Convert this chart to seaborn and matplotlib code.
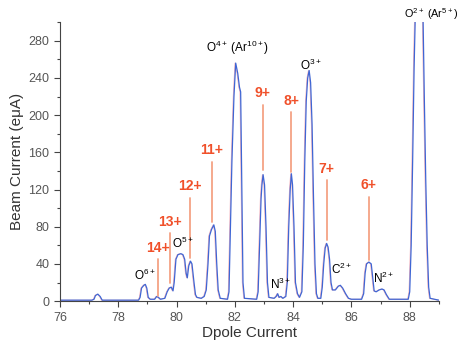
import seaborn as sns
import matplotlib.pyplot as plt
from matplotlib.ticker import MultipleLocator
import pandas as pd

# --- данные ---
dpole = [76.0, 77.1, 77.17, 77.22, 77.3, 77.38, 77.45, 78.7, 78.75, 78.8, 78.88, 78.93,
         78.98, 79.03, 79.1, 79.25, 79.32, 79.38, 79.45, 79.6, 79.68, 79.75, 79.82, 79.88,
         79.92, 79.98, 80.05, 80.15, 80.22, 80.28, 80.33, 80.37, 80.42, 80.48, 80.53, 80.6,
         80.65, 80.7, 80.85, 80.95, 81.02, 81.08, 81.13, 81.2, 81.28, 81.33, 81.38, 81.43,
         81.5, 81.75, 81.8, 81.85, 81.9, 81.97, 82.03, 82.1, 82.16, 82.2, 82.24, 82.28,
         82.33, 82.75, 82.8, 82.85, 82.9, 82.93, 82.97, 83.02, 83.07, 83.12, 83.17, 83.35,
         83.42, 83.47, 83.52, 83.58, 83.65, 83.75, 83.8, 83.85, 83.9, 83.94, 83.98, 84.03,
         84.08, 84.15, 84.22, 84.3, 84.35, 84.4, 84.45, 84.5, 84.55, 84.6, 84.65, 84.7,
         84.75, 84.8, 84.85, 84.95, 85.0, 85.05, 85.1, 85.15, 85.2, 85.25, 85.3, 85.35,
         85.45, 85.55, 85.62, 85.7, 85.8, 85.9, 86.0, 86.35, 86.42, 86.47, 86.52, 86.6,
         86.68, 86.73, 86.78, 86.85, 86.95, 87.05, 87.12, 87.2, 87.3, 87.95, 88.0, 88.05,
         88.1, 88.15, 88.2, 88.45, 88.5, 88.55, 88.6, 88.65, 88.7, 89.0]
current = [1, 1, 2, 6, 7.5, 5, 1, 1, 4, 14, 17, 18,
           14, 4, 2, 2, 5, 4, 2, 3, 10, 14, 15, 11,
           20, 45, 50, 51, 50, 45, 30, 25, 38, 43, 40, 20,
           7, 4, 3, 5, 12, 40, 70, 77, 82, 75, 40, 12,
           3, 2, 10, 80, 150, 220, 256, 245, 230, 225, 120, 20,
           3, 2, 10, 60, 110, 125, 136, 125, 80, 20, 4, 3,
           5, 8, 4, 5, 3, 5, 20, 80, 120, 137, 125, 80,
           20, 8, 4, 10, 60, 150, 215, 240, 248, 235, 190, 110,
           40, 8, 3, 3, 15, 40, 57, 62, 58, 45, 20, 12,
           12, 16, 17, 14, 8, 3, 2, 2, 8, 30, 40, 42,
           40, 25, 11, 10, 12, 13, 12, 7, 2, 2, 10, 60,
           150, 250, 320, 320, 220, 130, 60, 15, 3, 1]

# зарядовые состояния (красные метки): текст, x, верх линии, низ линии
charge_labels = ['14+', '13+', '12+', '11+', '9+', '8+', '7+', '6+']
charge_x = [79.35, 79.77, 80.46, 81.22, 82.96, 83.94, 85.15, 86.6]
line_top = [45, 73, 111, 150, 211, 203, 130, 112]
line_bottom = [5, 19, 46, 85, 141, 139, 66, 44]

# ионы (чёрные метки)
ion_labels = ['O$^{6+}$', 'O$^{5+}$', 'O$^{4+}$ (Ar$^{10+}$)', 'N$^{3+}$', 'O$^{3+}$',
              'C$^{2+}$', 'N$^{2+}$', 'O$^{2+}$ (Ar$^{5+}$)']
ion_x = [78.9, 80.2, 82.1, 83.55, 84.6, 85.65, 87.1, 89.66]
ion_y = [20, 54, 262, 10, 245, 26, 16, 300]
ion_ha = ['center'] * 7 + ['right']
ion_size = [8.5] * 7 + [7.8]

RED = '#f0502a'
LINE_RED = '#f4a285'
BLUE = '#3f66d4'

sns.set_style("ticks")
plt.rcParams['font.family'] = ['Liberation Sans', 'DejaVu Sans']
plt.rcParams['mathtext.fontset'] = 'custom'
plt.rcParams['mathtext.rm'] = 'Liberation Sans'
plt.rcParams['mathtext.it'] = 'Liberation Sans'

fig = plt.figure(figsize=(4.61, 3.41), dpi=100)
ax = fig.add_axes([0.130, 0.117, 0.822, 0.818])

df = pd.DataFrame({'Dpole': dpole, 'Current': current})
df_red = df.assign(Dpole=df['Dpole'] - 0.025)

# бледная красная кривая под синей
sns.lineplot(data=df_red, x='Dpole', y='Current', color='#e86a7e', linewidth=0.6,
             alpha=0.55, ax=ax)
sns.lineplot(data=df, x='Dpole', y='Current', color=BLUE, linewidth=0.9, ax=ax)

for lab, x, yt, yb in zip(charge_labels, charge_x, line_top, line_bottom):
    ax.plot([x, x], [yb, yt], color=LINE_RED, linewidth=1.3)
    ax.text(x, yt + 5, lab, color=RED, fontsize=10, fontweight='bold',
            ha='center', va='bottom')

for lab, x, y, ha, fs in zip(ion_labels, ion_x, ion_y, ion_ha, ion_size):
    ax.text(x, y, lab, color='black', fontsize=fs, ha=ha, va='bottom',
            clip_on=False)

ax.set_xlim(76, 89)
ax.set_ylim(0, 300)
ax.xaxis.set_major_locator(MultipleLocator(2))
ax.xaxis.set_minor_locator(MultipleLocator(1))
ax.yaxis.set_major_locator(MultipleLocator(40))
ax.yaxis.set_minor_locator(MultipleLocator(20))
ax.tick_params(which='major', length=4, width=0.8, colors='#444444', labelsize=9,
               labelcolor='#555555')
ax.tick_params(which='minor', length=2.5, width=0.8, colors='#444444')

ax.set_xlabel('Dpole Current', fontsize=11, color='#333333', labelpad=2)
ax.set_ylabel('Beam Current (e\u03bcA)', fontsize=11, color='#333333', labelpad=3)

sns.despine(ax=ax)
ax.spines['left'].set_color('#444444')
ax.spines['bottom'].set_color('#444444')

fig.savefig('out.png', dpi=100)
